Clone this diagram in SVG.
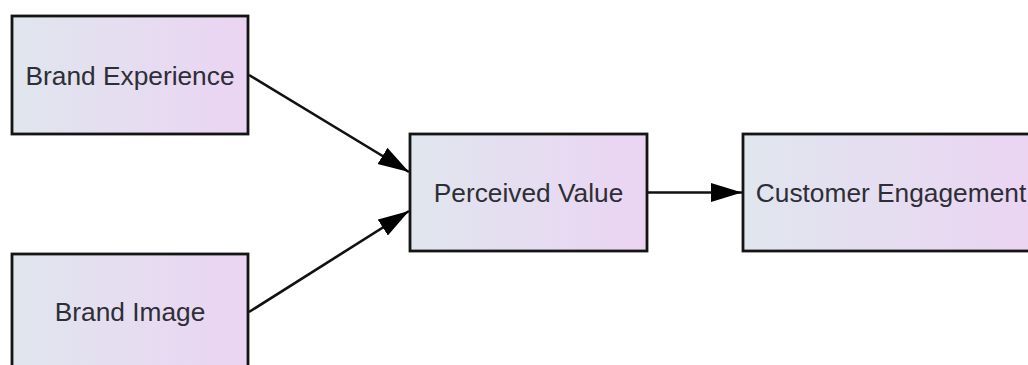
<svg xmlns="http://www.w3.org/2000/svg" width="1028" height="365" viewBox="0 0 1028 365">
  <style>
    .box { fill: url(#boxFill); stroke: #141414; stroke-width: 2.8; }
    .label { font-family: "Liberation Sans", Arial, sans-serif; font-size: 26.3px; fill: #2e2e36; text-anchor: middle; }
    .edge { fill: none; stroke: #111; stroke-width: 2.6; }
  </style>
  <defs>
    <linearGradient id="boxFill" x1="0" y1="0" x2="1" y2="0">
      <stop offset="0" stop-color="#e0e6ee"/>
      <stop offset="1" stop-color="#ebd4f3"/>
    </linearGradient>
    <marker id="arrow" markerUnits="userSpaceOnUse" markerWidth="32" markerHeight="20" refX="31" refY="9.5" orient="auto">
      <path d="M0,0 L31,9.5 L0,19 z" fill="#000"/>
    </marker>
  </defs>
  <rect width="1028" height="365" fill="#ffffff"/>

  <g id="connectors">
    <line class="edge" x1="249" y1="75" x2="409" y2="172" marker-end="url(#arrow)"/>
    <line class="edge" x1="249" y1="312" x2="409" y2="211" marker-end="url(#arrow)"/>
    <line class="edge" x1="648" y1="192.5" x2="742" y2="192.5" marker-end="url(#arrow)"/>
  </g>

  <g id="brand-experience">
    <rect class="box" x="12" y="16" width="236" height="118"/>
    <text class="label" x="130" y="84.5">Brand Experience</text>
  </g>

  <g id="brand-image">
    <rect class="box" x="12" y="254" width="236" height="118"/>
    <text class="label" x="130" y="321">Brand Image</text>
  </g>

  <g id="perceived-value">
    <rect class="box" x="410" y="134" width="237" height="117"/>
    <text class="label" x="528.5" y="201.5">Perceived Value</text>
  </g>

  <g id="customer-engagement">
    <rect class="box" x="743" y="134" width="295" height="117"/>
    <text class="label" x="891" y="201.5">Customer Engagement</text>
  </g>
</svg>
